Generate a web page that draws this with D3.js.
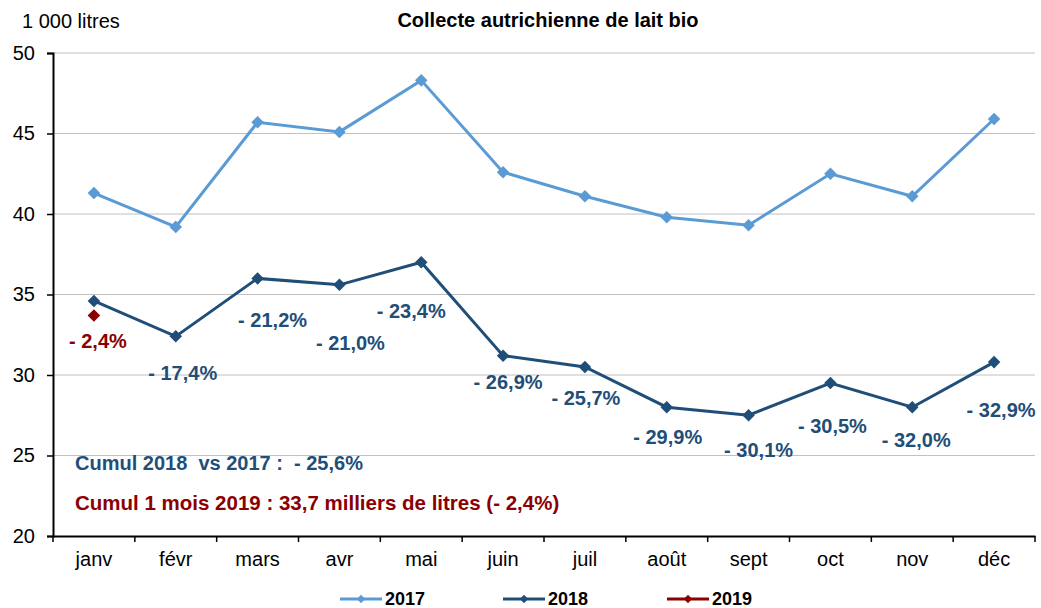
<!DOCTYPE html>
<html>
<head>
<meta charset="utf-8">
<script src="https://cdn.jsdelivr.net/npm/d3@7"></script>
<style>
  body { margin: 0; background: #fff; }
  text { font-family: "Liberation Sans", Arial, sans-serif; }
</style>
</head>
<body>
<div id="chart"></div>
<script>
const months = ['janv', 'févr', 'mars', 'avr', 'mai', 'juin', 'juil', 'août', 'sept', 'oct', 'nov', 'déc']
const values2017 = [41.3, 39.2, 45.7, 45.1, 48.3, 42.6, 41.1, 39.8, 39.3, 42.5, 41.1, 45.9]
const values2018 = [34.6, 32.4, 36.0, 35.6, 37.0, 31.2, 30.5, 28.0, 27.5, 29.5, 28.0, 30.8]
const values2019 = [33.7]
const changeLabels = ['- 2,4%', '- 17,4%', '- 21,2%', '- 21,0%', '- 23,4%', '- 26,9%', '- 25,7%', '- 29,9%', '- 30,1%', '- 30,5%', '- 32,0%', '- 32,9%']
const yTicks = [20, 25, 30, 35, 40, 45, 50]

// label offsets (px) from each point, hand placed like the original
const labelOffsets = [[4, 47], [7, 44], [15, 49], [11, 65], [-10, 56], [5, 33], [1, 38], [1, 37], [10, 42], [2, 50], [4, 40], [7, 55]]

const width = 1041, height = 608
const margin = {top: 53, right: 6, bottom: 72, left: 53}
const font = '"Liberation Sans", Arial, sans-serif'

const svg = d3.select('#chart').append('svg')
    .attr('width', width)
    .attr('height', height)

const x = d3.scaleBand()
    .domain(months)
    .range([margin.left, width - margin.right])

const y = d3.scaleLinear()
    .domain([20, 50])
    .range([height - margin.bottom, margin.top])

const cx = d => x(d) + x.bandwidth() / 2

// gridlines
svg.append('g')
  .selectAll('line')
  .data(yTicks.slice(1))
  .enter().append('line')
    .attr('x1', margin.left)
    .attr('x2', width - margin.right)
    .attr('y1', d => y(d))
    .attr('y2', d => y(d))
    .attr('stroke', '#c0c0c0')
    .attr('stroke-width', 1)

// y axis
const yAxis = svg.append('g')
    .attr('transform', 'translate(' + margin.left + ',0)')
    .call(d3.axisLeft(y).tickValues(yTicks).tickSize(6).tickPadding(12))
yAxis.select('.domain').attr('stroke', '#000').attr('stroke-width', 2)
yAxis.selectAll('.tick line').attr('stroke', '#000').attr('stroke-width', 1.5)
yAxis.selectAll('text').attr('font-size', 20).attr('fill', '#000')
    .style('font-family', font)

// x axis
const xAxis = svg.append('g')
    .attr('transform', 'translate(0,' + y(20) + ')')
    .call(d3.axisBottom(x).tickSize(0).tickPadding(16))
xAxis.select('.domain').attr('stroke', '#000').attr('stroke-width', 2)
xAxis.selectAll('text').attr('font-size', 20).attr('fill', '#000')
    .style('font-family', font)
svg.append('g')
  .selectAll('line')
  .data(months)
  .enter().append('line')
    .attr('x1', d => x(d))
    .attr('x2', d => x(d))
    .attr('y1', y(20))
    .attr('y2', y(20) + 6)
    .attr('stroke', '#000')
    .attr('stroke-width', 1.5)
svg.append('line')
    .attr('x1', width - margin.right).attr('x2', width - margin.right)
    .attr('y1', y(20)).attr('y2', y(20) + 6)
    .attr('stroke', '#000').attr('stroke-width', 1.5)

const line = d3.line()
    .x((d, i) => cx(months[i]))
    .y(d => y(d))

const diamond = d3.symbol().type(d3.symbolDiamond2).size(100)

const series = [
  {name: '2017', data: values2017, color: '#5b9bd5'},
  {name: '2018', data: values2018, color: '#1f4e79'},
  {name: '2019', data: values2019, color: '#8b0000'}
]

series.forEach(s => {
  svg.append('path')
      .datum(s.data)
      .attr('fill', 'none')
      .attr('stroke', s.color)
      .attr('stroke-width', 3)
      .attr('d', line)
  svg.append('g')
    .selectAll('path')
    .data(s.data)
    .enter().append('path')
      .attr('d', diamond)
      .attr('transform', (d, i) => 'translate(' + cx(months[i]) + ',' + y(d) + ')')
      .attr('fill', s.color)
})

// percentage labels
svg.append('g')
  .selectAll('text')
  .data(changeLabels)
  .enter().append('text')
    .attr('x', (d, i) => cx(months[i]) + labelOffsets[i][0])
    .attr('y', (d, i) => y(values2018[i]) + labelOffsets[i][1])
    .attr('text-anchor', 'middle')
    .attr('font-size', 20)
    .attr('font-weight', 'bold')
    .attr('fill', (d, i) => i === 0 ? '#8b0000' : '#1f4e79')
    .text(d => d)

// cumul notes
svg.append('text')
    .attr('x', 75).attr('y', 470)
    .attr('font-size', 20).attr('font-weight', 'bold')
    .attr('fill', '#1f4e79')
    .attr('xml:space', 'preserve')
    .text('Cumul 2018  vs 2017 :  - 25,6%')
svg.append('text')
    .attr('x', 75).attr('y', 510)
    .attr('font-size', 20.5).attr('font-weight', 'bold')
    .attr('fill', '#8b0000')
    .text('Cumul 1 mois 2019 : 33,7 milliers de litres (- 2,4%)')

// title and unit
svg.append('text')
    .attr('x', 548).attr('y', 27)
    .attr('text-anchor', 'middle')
    .attr('font-size', 20).attr('font-weight', 'bold')
    .text('Collecte autrichienne de lait bio')
svg.append('text')
    .attr('x', 22).attr('y', 28)
    .attr('font-size', 20)
    .text('1 000 litres')

// legend
const legendX = [340, 503, 667]
const legend = svg.append('g')
  .selectAll('g')
  .data(series)
  .enter().append('g')
    .attr('transform', (d, i) => 'translate(' + legendX[i] + ',599)')
legend.append('line')
    .attr('x1', 0).attr('x2', 42)
    .attr('stroke', d => d.color)
    .attr('stroke-width', 3)
legend.append('path')
    .attr('d', d3.symbol().type(d3.symbolDiamond2).size(44))
    .attr('transform', 'translate(21,0)')
    .attr('fill', d => d.color)
legend.append('text')
    .attr('x', 45).attr('y', 6)
    .attr('font-size', 18).attr('font-weight', 'bold')
    .text(d => d.name)
</script>
</body>
</html>
